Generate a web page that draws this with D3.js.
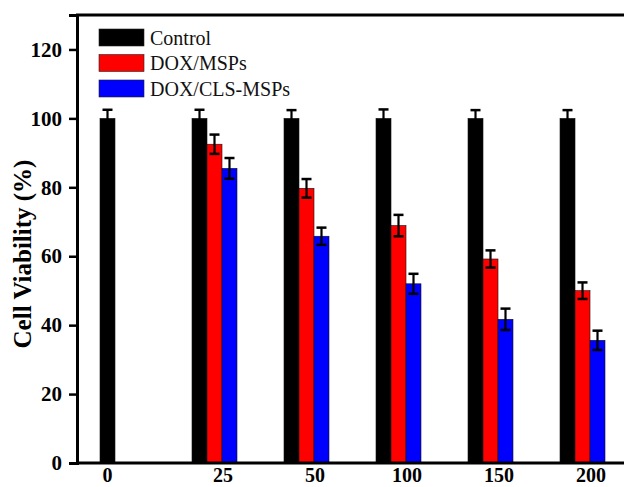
<!DOCTYPE html>
<html>
<head>
<meta charset="utf-8">
<script src="https://cdn.jsdelivr.net/npm/d3@7"></script>
<style>
  body { margin: 0; background: #fff; }
  svg { display: block; font-family: "Times New Roman", "Liberation Serif", serif; }
</style>
</head>
<body>
<div id="chart"></div>
<script>
const concentrations = ["0", "25", "50", "100", "150", "200"];
const seriesNames = ["Control", "DOX/MSPs", "DOX/CLS-MSPs"];
const seriesColors = ["#000000", "#ff0000", "#0000ff"];
const controlValues = [100, 100, 100, 100, 100, 100];
const controlErrors = [2.5, 2.5, 2.4, 2.6, 2.4, 2.4];
const msValues = [null, 92.5, 79.7, 68.9, 59.2, 50.0];
const msErrors = [null, 2.8, 2.7, 3.1, 2.5, 2.4];
const clsValues = [null, 85.5, 65.8, 52.0, 41.7, 35.6];
const clsErrors = [null, 3.0, 2.5, 2.9, 3.1, 2.8];
const yTicks = [0, 20, 40, 60, 80, 100, 120];

const width = 624, height = 487;
const svg = d3.select("#chart").append("svg").attr("width", width).attr("height", height);

const x = d3.scaleBand().domain(concentrations).range([100, 605]).paddingInner(0.511).paddingOuter(0);
const sub = d3.scaleBand().domain(seriesNames).range([0, x.bandwidth()]);
const y = d3.scaleLinear().domain([0, 130]).range([463, 15]);

const allValues = [controlValues, msValues, clsValues];
const allErrors = [controlErrors, msErrors, clsErrors];
const rows = [];
seriesNames.forEach((s, si) => {
  concentrations.forEach((c, ci) => {
    const v = allValues[si][ci];
    if (v != null) rows.push({ series: s, color: seriesColors[si], conc: c, value: v, err: allErrors[si][ci] });
  });
});

// bars
svg.append("g").selectAll("rect").data(rows).join("rect")
  .attr("x", d => x(d.conc) + sub(d.series))
  .attr("y", d => y(d.value))
  .attr("width", sub.bandwidth())
  .attr("height", d => y(0) - y(d.value))
  .attr("fill", d => d.color)
  .attr("stroke", "#111")
  .attr("stroke-width", 0.6);

// error bars
const eb = svg.append("g").attr("stroke", "#000").attr("stroke-width", 2.2);
rows.forEach(d => {
  const cx = x(d.conc) + sub(d.series) + sub.bandwidth() / 2;
  eb.append("line").attr("x1", cx).attr("x2", cx).attr("y1", y(d.value - d.err)).attr("y2", y(d.value + d.err));
  eb.append("line").attr("x1", cx - 5).attr("x2", cx + 5).attr("y1", y(d.value + d.err)).attr("y2", y(d.value + d.err)).attr("stroke-width", 2.5);
  if (d.series !== "Control")
    eb.append("line").attr("x1", cx - 5).attr("x2", cx + 5).attr("y1", y(d.value - d.err)).attr("y2", y(d.value - d.err)).attr("stroke-width", 2.5);
});

// y axis
const yAxis = svg.append("g").attr("transform", "translate(77,0)")
  .call(d3.axisLeft(y).tickValues(yTicks).tickSize(8).tickPadding(7));
yAxis.select(".domain").attr("stroke-width", 3);
yAxis.selectAll(".tick line").attr("stroke-width", 2.5);
yAxis.selectAll("text").attr("font-size", 21).attr("font-weight", "bold")
  .attr("font-family", "'Times New Roman', 'Liberation Serif', serif").attr("fill", "#000");

// frame: bottom and top
svg.append("line").attr("x1", 76).attr("x2", width).attr("y1", y(0)).attr("y2", y(0))
  .attr("stroke", "#000").attr("stroke-width", 3);
svg.append("line").attr("x1", 76).attr("x2", width).attr("y1", y(130)).attr("y2", y(130))
  .attr("stroke", "#000").attr("stroke-width", 3);

// x labels
svg.append("g").selectAll("text").data(concentrations).join("text")
  .attr("x", c => c === "0" ? x(c) + sub.bandwidth() / 2 : x(c) + x.bandwidth() * 0.69)
  .attr("y", 482)
  .attr("text-anchor", "middle")
  .attr("font-size", 20).attr("font-weight", "bold")
  .text(c => c);

// y title
svg.append("text")
  .attr("transform", "translate(31,254) rotate(-90)")
  .attr("text-anchor", "middle")
  .attr("font-size", 25).attr("font-weight", "bold")
  .text("Cell Viability (%)");

// legend
const legend = svg.append("g").attr("transform", "translate(99,29)");
seriesNames.forEach((s, i) => {
  const g = legend.append("g").attr("transform", `translate(0,${i * 25.5})`);
  g.append("rect").attr("width", 45).attr("height", 17).attr("fill", seriesColors[i])
    .attr("stroke", "#222").attr("stroke-width", 0.6);
  g.append("text").attr("x", 51).attr("y", 15.5).attr("font-size", 20).attr("fill", "#111").text(s);
});
</script>
</body>
</html>
